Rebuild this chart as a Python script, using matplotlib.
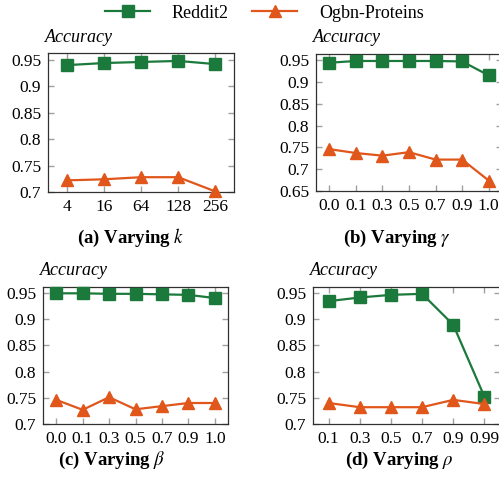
import matplotlib
matplotlib.use("Agg")
import matplotlib.pyplot as plt

plt.rcParams['font.family'] = ['Liberation Serif', 'DejaVu Serif']
plt.rcParams['mathtext.fontset'] = 'stix'

GREEN = "#1b7a3b"
ORANGE = "#e0561b"

# (a) varying k
k_labels = ["4", "16", "64", "128", "256"]
k_reddit = [0.940, 0.944, 0.946, 0.948, 0.942]
k_proteins = [0.722, 0.724, 0.728, 0.728, 0.701]

# (b) varying gamma
gamma_labels = ["0.0", "0.1", "0.3", "0.5", "0.7", "0.9", "1.0"]
gamma_reddit = [0.944, 0.948, 0.948, 0.948, 0.948, 0.947, 0.915]
gamma_proteins = [0.746, 0.737, 0.731, 0.739, 0.722, 0.722, 0.674]

# (c) varying beta
beta_labels = ["0.0", "0.1", "0.3", "0.5", "0.7", "0.9", "1.0"]
beta_reddit = [0.949, 0.949, 0.948, 0.948, 0.947, 0.946, 0.940]
beta_proteins = [0.746, 0.727, 0.751, 0.728, 0.734, 0.740, 0.740]

# (d) varying rho
rho_labels = ["0.1", "0.3", "0.5", "0.7", "0.9", "0.99"]
rho_reddit = [0.934, 0.941, 0.946, 0.948, 0.889, 0.752]
rho_proteins = [0.740, 0.732, 0.732, 0.732, 0.746, 0.738]

W, H = 499, 486
fig = plt.figure(figsize=(W / 100, H / 100), dpi=100)


def px_axes(left, right, top, bottom):
    return fig.add_axes([left / W, 1 - bottom / H, (right - left) / W, (bottom - top) / H])


def panel(ax, labels, reddit, proteins, ylim, yticks, yticklabels):
    x = list(range(len(labels)))
    ax.plot(x, reddit, color=GREEN, marker="s", markersize=9, lw=1.6, label="Reddit2",
            clip_on=False, zorder=3)
    ax.plot(x, proteins, color=ORANGE, marker="^", markersize=9, lw=1.6, label="Ogbn-Proteins",
            clip_on=False, zorder=3)
    ax.set_xlim(-0.5, len(labels) - 0.5)
    ax.set_ylim(*ylim)
    ax.set_xticks(x)
    ax.set_xticklabels(labels)
    ax.set_yticks(yticks)
    ax.set_yticklabels(yticklabels)
    ax.tick_params(direction="in", length=4, width=1, color="#a0a0a0",
                   top=True, right=True, labelsize=12.5, pad=5)
    for s in ax.spines.values():
        s.set_color("#303030")
        s.set_linewidth(0.9)


yt = [0.7, 0.75, 0.8, 0.85, 0.9, 0.95]
ytl = ["0.7", "0.75", "0.8", "0.85", "0.9", "0.95"]
yt_b = [0.65] + yt
ytl_b = ["0.65"] + ytl

ax_a = px_axes(48, 234, 53, 192)
panel(ax_a, k_labels, k_reddit, k_proteins, (0.7, 0.963), yt, ytl)
ax_b = px_axes(316, 502, 54, 191)
panel(ax_b, gamma_labels, gamma_reddit, gamma_proteins, (0.65, 0.964), yt_b, ytl_b)
ax_c = px_axes(43, 228, 287, 424)
panel(ax_c, beta_labels, beta_reddit, beta_proteins, (0.7, 0.961), yt, ytl)
ax_d = px_axes(313, 500, 287, 424)
panel(ax_d, rho_labels, rho_reddit, rho_proteins, (0.7, 0.961), yt, ytl)

# "Accuracy" labels above each axes
for (xp, yp) in [(45, 37), (313, 37), (40, 270), (310, 270)]:
    fig.text(xp / W, 1 - yp / H, "Accuracy", style="italic", fontsize=13,
             ha="left", va="center")

# captions
captions = [(131, 238, r"(a) Varying $k$"), (397, 238, r"(b) Varying $\gamma$"),
            (112, 460, r"(c) Varying $\beta$"), (399, 460, r"(d) Varying $\rho$")]
for (xp, yp, t) in captions:
    fig.text(xp / W, 1 - yp / H, t, fontsize=13.5, fontweight="bold",
             ha="center", va="center")

handles, lbls = ax_a.get_legend_handles_labels()
fig.legend(handles, lbls, loc="center", bbox_to_anchor=(0.53, 1 - 13 / H), ncol=2,
           frameon=False, fontsize=13, handlelength=2.5, columnspacing=1.3,
           handletextpad=1.2)

fig.savefig("out.png", dpi=100)
